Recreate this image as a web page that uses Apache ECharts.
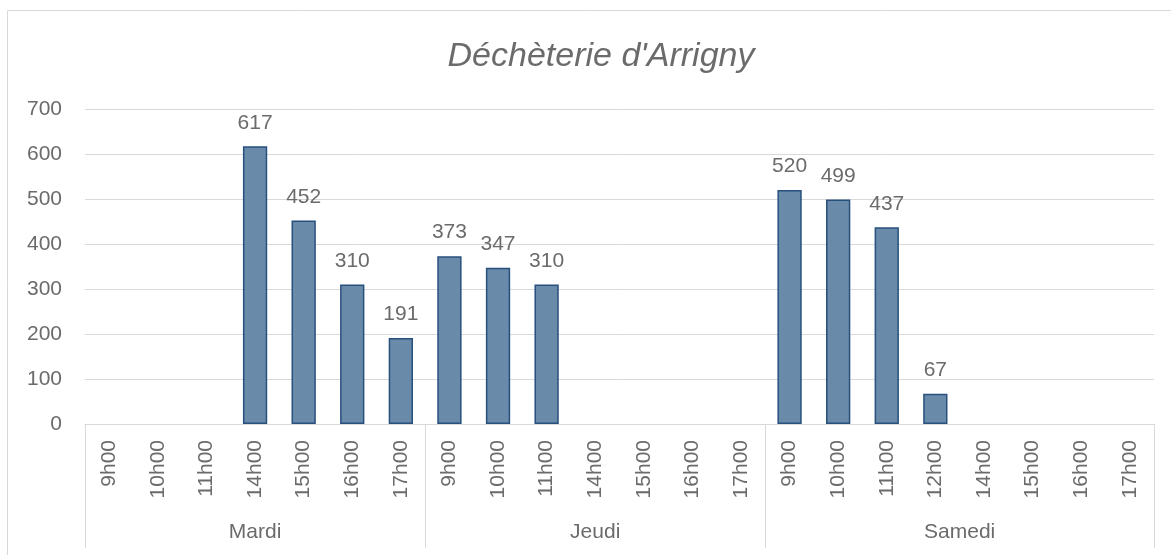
<!DOCTYPE html>
<html>
<head>
<meta charset="utf-8">
<script src="https://cdn.jsdelivr.net/npm/echarts@6/dist/echarts.min.js"></script>
<style>
  html, body { margin: 0; padding: 0; background: #fff; }
  #main { width: 1171px; height: 555px; }
</style>
</head>
<body>
<div id="main"></div>
<script>
// données
const groups = ['Mardi', 'Jeudi', 'Samedi'];
const mardiHours = ['9h00', '10h00', '11h00', '14h00', '15h00', '16h00', '17h00'];
const jeudiHours = ['9h00', '10h00', '11h00', '14h00', '15h00', '16h00', '17h00'];
const samediHours = ['9h00', '10h00', '11h00', '12h00', '14h00', '15h00', '16h00', '17h00'];
const mardiValues = [null, null, null, 617, 452, 310, 191];
const jeudiValues = [373, 347, 310, null, null, null, null];
const samediValues = [520, 499, 437, 67, null, null, null, null];
const yTicks = [0, 100, 200, 300, 400, 500, 600, 700];

const hourLists = [mardiHours, jeudiHours, samediHours];
const categories = [].concat(mardiHours, jeudiHours, samediHours);
const values = [].concat(mardiValues, jeudiValues, samediValues);

// début et centre de chaque groupe
const starts = {};
const centers = {};
let pos = 0;
hourLists.forEach(function (list, i) {
    starts[pos] = true;
    centers[(pos + list.length / 2).toFixed(1)] = groups[i];
    pos += list.length;
});

const grey = '#6b6b6b';
const lineGrey = '#d9d9d9';
const font = 'Liberation Sans';

function chart() {
    let myChart = echarts.init(document.querySelector('#main'));
    let option = {
        animation: false,
        textStyle: { fontFamily: font },
        title: {
            text: "Déchèterie d'Arrigny",
            left: 596,
            textAlign: 'center',
            top: 35,
            textStyle: {
                fontFamily: font,
                fontStyle: 'italic',
                fontWeight: 'normal',
                fontSize: 34,
                color: grey
            }
        },
        graphic: [{
            type: 'rect',
            shape: { x: 7.5, y: 10.5, width: 1200, height: 600 },
            style: { fill: 'none', stroke: lineGrey, lineWidth: 1 },
            silent: true
        }],
        grid: { left: 85, right: 17, top: 109, bottom: 131 },
        xAxis: [
            {
                type: 'category',
                data: categories,
                axisLine: { lineStyle: { color: lineGrey, width: 1 } },
                axisTick: {
                    show: true,
                    length: 124,
                    interval: function (index) { return !!starts[index]; },
                    lineStyle: { color: lineGrey, width: 1 }
                },
                axisLabel: {
                    interval: 0,
                    rotate: 90,
                    margin: 16,
                    fontSize: 21,
                    color: grey,
                    fontFamily: font
                }
            },
            {
                type: 'value',
                position: 'bottom',
                min: 0,
                max: categories.length,
                interval: 0.5,
                axisLine: { show: false },
                axisTick: { show: false },
                splitLine: { show: false },
                axisLabel: {
                    margin: 98,
                    fontSize: 21,
                    color: grey,
                    fontFamily: font,
                    formatter: function (v) { return centers[v.toFixed(1)] || ''; }
                }
            }
        ],
        yAxis: {
            type: 'value',
            min: yTicks[0],
            max: yTicks[yTicks.length - 1],
            interval: 100,
            axisLine: { show: false },
            axisTick: { show: false },
            splitLine: { lineStyle: { color: lineGrey, width: 1 } },
            axisLabel: { margin: 23, fontSize: 21, color: grey, fontFamily: font }
        },
        series: [
            {
                type: 'bar',
                data: values,
                barCategoryGap: '50%',
                itemStyle: {
                    color: '#6a8aa9',
                    borderColor: '#27507d',
                    borderWidth: 1.5
                },
                label: {
                    show: true,
                    position: 'top',
                    distance: 13,
                    fontSize: 21,
                    color: grey,
                    fontFamily: font
                }
            }
        ]
    };
    myChart.setOption(option);
}
chart();
</script>
</body>
</html>
